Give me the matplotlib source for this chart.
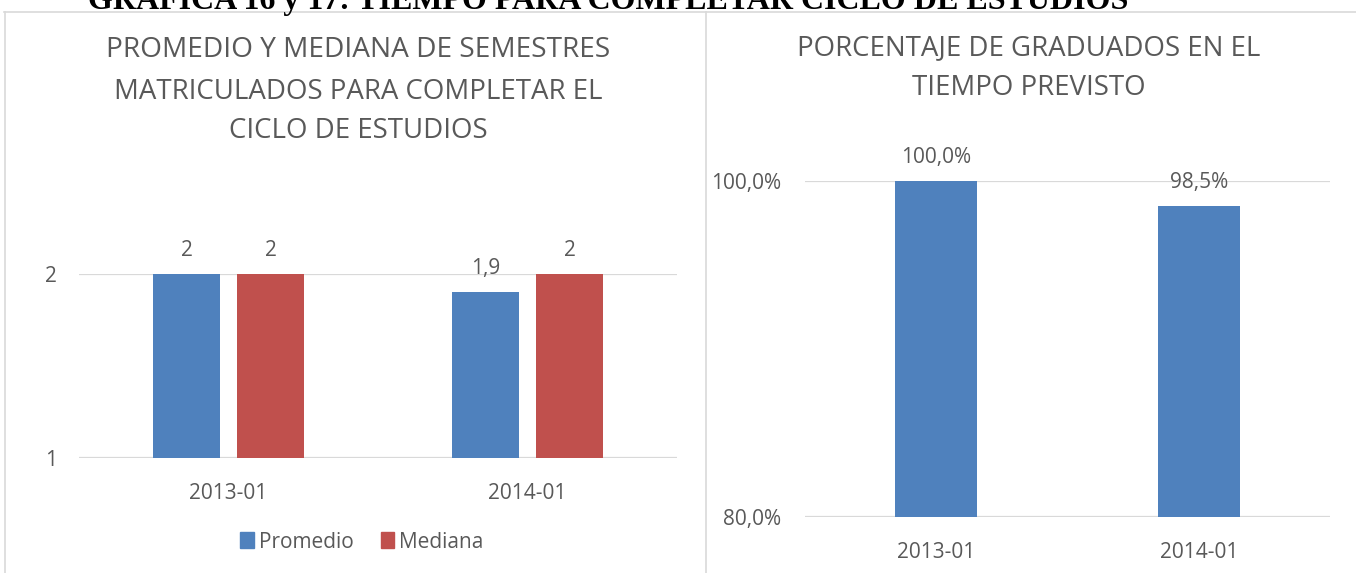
import matplotlib
matplotlib.use("Agg")
import matplotlib.pyplot as plt
from matplotlib.lines import Line2D
from matplotlib.patches import Patch

# ---- data ----
categories = ["2013-01", "2014-01"]
promedio = [2, 1.9]
mediana = [2, 2]
graduados_pct = [100.0, 98.5]
left_yticks = [1, 2]
right_yticks = [80, 100]

header = "GRAFICA 16 y 17: TIEMPO PARA COMPLETAR CICLO DE ESTUDIOS"
left_title = ["PROMEDIO Y MEDIANA DE SEMESTRES", "MATRICULADOS PARA COMPLETAR EL", "CICLO DE ESTUDIOS"]
right_title = ["PORCENTAJE DE GRADUADOS EN EL", "TIEMPO PREVISTO"]

W, H = 1356, 573
BLUE = "#4f81bd"
RED = "#c0504d"
TXT = "#595959"
GRID = "#d9d9d9"
FONT = "Open Sans"

fig = plt.figure(figsize=(W / 100, H / 100), dpi=100)
fig.patch.set_facecolor("white")


def fx(px):
    return px / W


def fy(py):
    return 1 - py / H


renderer = fig.canvas.get_renderer()


def fit_text(txt, x, y, width, size0=16, **kw):
    t = fig.text(fx(x), fy(y), txt, fontsize=size0, **kw)
    w = t.get_window_extent(renderer=renderer).width
    t.set_fontsize(size0 * width / w)
    return t


def comma(v, dec):
    return f"{v:.{dec}f}".replace(".", ",")


# ---- borders ----
fig.add_artist(Line2D([fx(4), fx(1356)], [fy(12), fy(12)], color=GRID, lw=1.2))
fig.add_artist(Line2D([fx(4.5), fx(4.5)], [fy(12), fy(573)], color=GRID, lw=1.2))
fig.add_artist(Line2D([fx(706), fx(706)], [fy(12), fy(573)], color=GRID, lw=1.2))

# ---- header (cut off at top) ----
fit_text(header, 608.5, 9, 1043, family="Liberation Serif", weight="bold",
         color="black", ha="center", va="baseline")

# ---- left chart ----
axL = fig.add_axes([fx(79), fy(458), fx(677 - 79), (458 - 274) / H])
x = list(range(len(categories)))
bw, off = 0.224, 0.1405
b1 = axL.bar([i - off for i in x], promedio, width=bw, color=BLUE, zorder=3)
b2 = axL.bar([i + off for i in x], mediana, width=bw, color=RED, zorder=3)
axL.set_xlim(-0.5, 1.5)
axL.set_ylim(1, 2)
axL.set_yticks(left_yticks)
axL.set_yticklabels([str(v) for v in left_yticks])
axL.set_xticks(x)
axL.set_xticklabels(categories)
axL.grid(axis="y", color=GRID, lw=1.6, zorder=0)
for s in axL.spines.values():
    s.set_visible(False)
axL.tick_params(axis="both", length=0, colors=TXT, labelsize=15)
axL.tick_params(axis="x", pad=18)
axL.tick_params(axis="y", pad=16)
for lab in axL.get_xticklabels() + axL.get_yticklabels():
    lab.set_family(FONT)
for bars, vals in ((b1, promedio), (b2, mediana)):
    for r, v in zip(bars, vals):
        lbl = comma(v, 0) if float(v).is_integer() else comma(v, 1)
        axL.annotate(lbl, (r.get_x() + r.get_width() / 2, v), xytext=(0, 17),
                     textcoords="offset points", ha="center", va="center",
                     fontsize=15, color=TXT, family=FONT, annotation_clip=False)

# left title
fit_text(left_title[0], 358.5, 50, 503, color=TXT, family=FONT, ha="center", va="center")
fit_text(left_title[1], 358.5, 92, 487, color=TXT, family=FONT, ha="center", va="center")
t3 = fig.text(fx(358.5), fy(131), left_title[2], color=TXT, family=FONT, ha="center", va="center")
t3.set_fontsize(fig.texts[-2].get_fontsize())

# legend
leg = fig.legend(handles=[Patch(color=BLUE, label="Promedio"), Patch(color=RED, label="Mediana")],
                 loc="center", bbox_to_anchor=(fx(362), fy(542)), ncol=2, frameon=False,
                 handlelength=0.65, handleheight=0.8, handletextpad=0.25, columnspacing=1.3,
                 prop={"family": FONT, "size": 15})
for t in leg.get_texts():
    t.set_color(TXT)

# ---- right chart ----
axR = fig.add_axes([fx(805), fy(517), fx(1330 - 805), (517 - 181) / H])
b3 = axR.bar(x, graduados_pct, width=0.312, color=BLUE, zorder=3)
axR.set_xlim(-0.5, 1.5)
axR.set_ylim(80, 100)
axR.set_yticks(right_yticks)
axR.set_yticklabels([comma(v, 1) + "%" for v in right_yticks])
axR.set_xticks(x)
axR.set_xticklabels(categories)
axR.grid(axis="y", color=GRID, lw=1.6, zorder=0)
for s in axR.spines.values():
    s.set_visible(False)
axR.tick_params(axis="both", length=0, colors=TXT, labelsize=15)
axR.tick_params(axis="x", pad=18)
axR.tick_params(axis="y", pad=17)
for lab in axR.get_xticklabels() + axR.get_yticklabels():
    lab.set_family(FONT)
for r, v in zip(b3, graduados_pct):
    axR.annotate(comma(v, 1) + "%", (r.get_x() + r.get_width() / 2, v), xytext=(0, 17),
                 textcoords="offset points", ha="center", va="center",
                 fontsize=15, color=TXT, family=FONT, annotation_clip=False)

fit_text(right_title[0], 1028.5, 48, 463, color=TXT, family=FONT, ha="center", va="center")
t5 = fig.text(fx(1028.5), fy(88), right_title[1], color=TXT, family=FONT, ha="center", va="center")
t5.set_fontsize(fig.texts[-2].get_fontsize())

fig.savefig("out.png", dpi=100, facecolor="white")
